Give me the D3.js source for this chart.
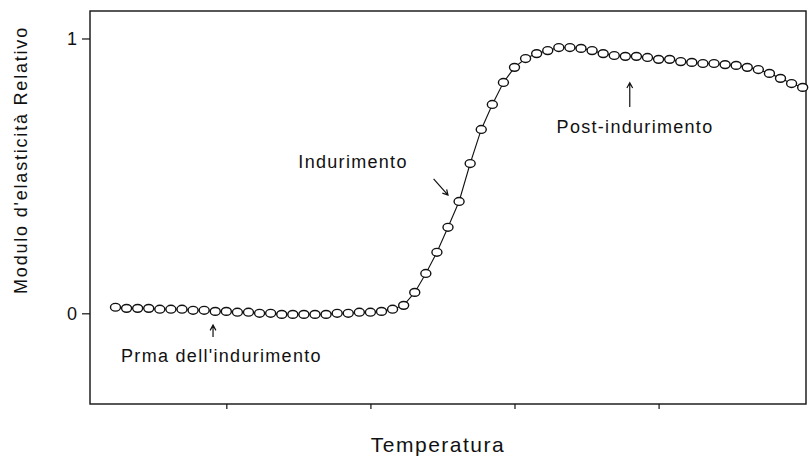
<!DOCTYPE html>
<html>
<head>
<meta charset="utf-8">
<script src="https://cdn.jsdelivr.net/npm/d3@7"></script>
<style>
  body { margin: 0; background: #fff; }
  text { font-family: "Liberation Sans", Arial, sans-serif; fill: #111; }
  .frame { fill: none; stroke: #111; stroke-width: 1.4; }
  .curve { fill: none; stroke: #111; stroke-width: 1.1; }
  .dot { fill: #fff; stroke: #111; stroke-width: 1.4; }
  .arrow { fill: none; stroke: #111; stroke-width: 1.2; }
</style>
</head>
<body>
<svg id="chart" width="809" height="458"></svg>
<script>
// sample index along the temperature axis (no units on the original plot)
var temp = [0, 1, 2, 3, 4, 5, 6, 7, 8, 9, 10, 11, 12, 13, 14, 15, 16, 17, 18, 19, 20,
    21, 22, 23, 24, 25, 26, 27, 28, 29, 30, 31, 32, 33, 34, 35, 36, 37, 38, 39, 40,
    41, 42, 43, 44, 45, 46, 47, 48, 49, 50, 51, 52, 53, 54, 55, 56, 57, 58, 59, 60, 61, 62];

// relative elastic modulus
var modulus = [0.022, 0.018, 0.018, 0.018, 0.015, 0.015, 0.015, 0.011, 0.011, 0.007,
    0.007, 0.004, 0.004, 0.000, 0.000, -0.004, -0.004, -0.004, -0.004, -0.004,
    0.000, 0.000, 0.004, 0.004, 0.007, 0.015, 0.029, 0.076, 0.145, 0.222,
    0.313, 0.407, 0.545, 0.669, 0.760, 0.840, 0.895, 0.927, 0.945, 0.956,
    0.967, 0.967, 0.964, 0.956, 0.945, 0.938, 0.935, 0.935, 0.931, 0.924,
    0.924, 0.916, 0.913, 0.909, 0.909, 0.905, 0.902, 0.895, 0.887, 0.873,
    0.855, 0.836, 0.822];

var xTicks = [10, 23, 36, 49];
var yTicks = [0, 1];
var yTickLabels = ["0", "1"];

var xTitle = "Temperatura";
var yTitle = "Modulo d'elasticità Relativo";
var notes = ["Prma dell'indurimento", "Indurimento", "Post-indurimento"];

var svg = d3.select("#chart"),
    plot = { left: 90, right: 806, top: 11, bottom: 404 };

var x = d3.scaleLinear().domain([-2.3, 62.3]).range([plot.left, plot.right]),
    y = d3.scaleLinear().domain([-0.33, 1.1]).range([plot.bottom, plot.top]);

var data = temp.map(function (t, i) { return { t: t, m: modulus[i] }; });

// frame
svg.append("rect")
    .attr("class", "frame")
    .attr("x", plot.left)
    .attr("y", plot.top)
    .attr("width", plot.right - plot.left)
    .attr("height", plot.bottom - plot.top);

// axes: only short ticks, no domain line (frame already drawn)
var yAxis = d3.axisLeft(y).tickValues(yTicks).tickSize(8).tickPadding(5)
    .tickFormat(function (d, i) { return yTickLabels[i]; });
var xAxis = d3.axisBottom(x).tickValues(xTicks).tickSize(5).tickFormat("");

var gy = svg.append("g")
    .attr("transform", "translate(" + plot.left + ",0)")
    .call(yAxis);
gy.select(".domain").remove();
gy.selectAll("line").attr("stroke", "#111").attr("stroke-width", 1.2);
gy.selectAll("text")
    .style("font-family", "'Liberation Sans', Arial, sans-serif")
    .style("font-size", "18px")
    .attr("fill", "#111");

var gx = svg.append("g")
    .attr("transform", "translate(0," + plot.bottom + ")")
    .call(xAxis);
gx.select(".domain").remove();
gx.selectAll("line").attr("stroke", "#111").attr("stroke-width", 1.2);

// curve + open markers
var line = d3.line()
    .x(function (d) { return x(d.t); })
    .y(function (d) { return y(d.m); });

svg.append("path")
    .datum(data)
    .attr("class", "curve")
    .attr("d", line);

svg.selectAll(".dot")
    .data(data)
    .enter().append("ellipse")
    .attr("class", "dot")
    .attr("cx", function (d) { return x(d.t); })
    .attr("cy", function (d) { return y(d.m); })
    .attr("rx", 5)
    .attr("ry", 3.9);

// titles
svg.append("text")
    .attr("x", 438)
    .attr("y", 452)
    .attr("text-anchor", "middle")
    .style("font-size", "21px")
    .style("letter-spacing", "1.5px")
    .text(xTitle);

svg.append("text")
    .attr("transform", "translate(27,160) rotate(-90)")
    .attr("text-anchor", "middle")
    .style("font-size", "18px")
    .style("letter-spacing", "1.8px")
    .text(yTitle);

// annotations (anchored in data units)
var noteAt = [[0.5, -0.177], [16.5, 0.529], [39.8, 0.656]];
notes.forEach(function (s, i) {
    svg.append("text")
        .attr("x", x(noteAt[i][0]))
        .attr("y", y(noteAt[i][1]))
        .style("font-size", "18px")
        .style("letter-spacing", "1.3px")
        .text(s);
});

// arrows: [x0, y0, x1, y1] tail -> head
var arrows = [[8.8, -0.086, 8.8, -0.043], [28.7, 0.489, 30.0, 0.430], [46.4, 0.751, 46.4, 0.839]];
arrows.forEach(function (a) {
    var x0 = x(a[0]), y0 = y(a[1]), x1 = x(a[2]), y1 = y(a[3]);
    var ang = Math.atan2(y1 - y0, x1 - x0), h = 6;
    svg.append("path")
        .attr("class", "arrow")
        .attr("d", "M" + x0 + "," + y0 + "L" + x1 + "," + y1 +
            "M" + (x1 - h * Math.cos(ang - 0.5)) + "," + (y1 - h * Math.sin(ang - 0.5)) +
            "L" + x1 + "," + y1 +
            "L" + (x1 - h * Math.cos(ang + 0.5)) + "," + (y1 - h * Math.sin(ang + 0.5)));
});
</script>
</body>
</html>
